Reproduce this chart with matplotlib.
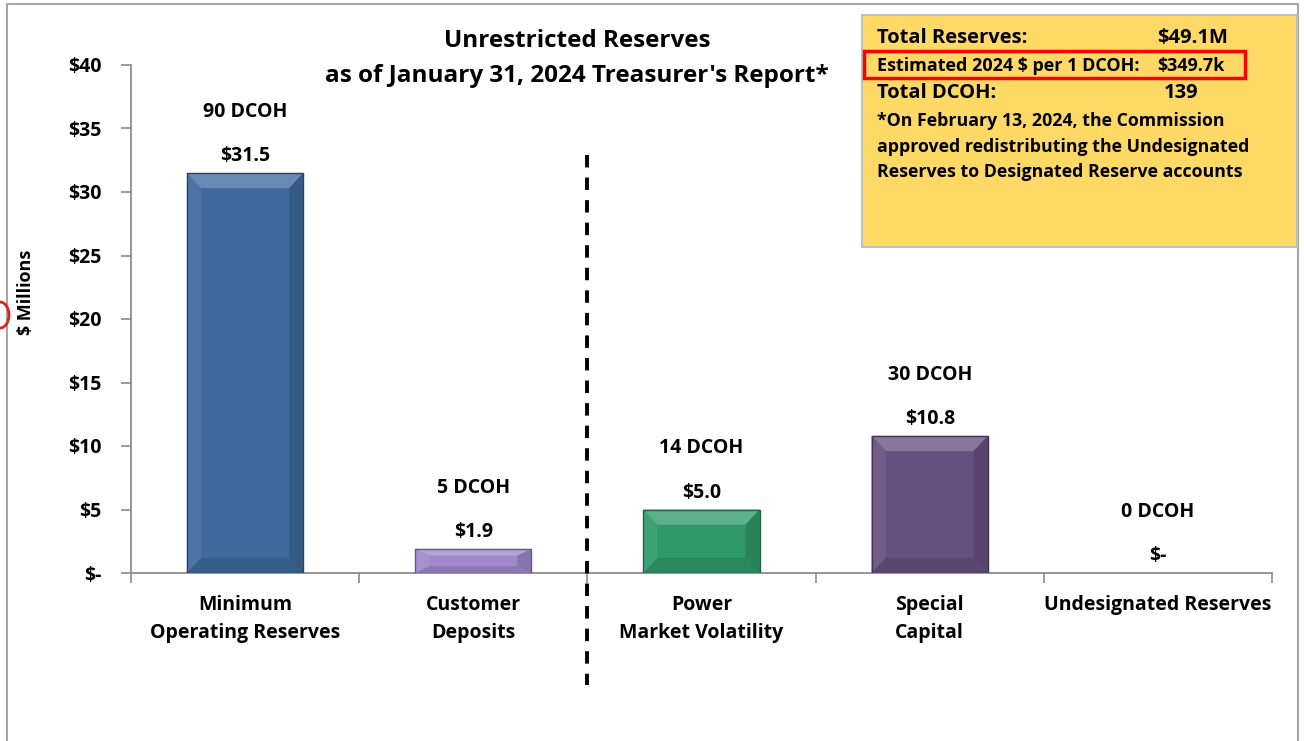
import matplotlib
matplotlib.use('Agg')
import matplotlib.pyplot as plt
from matplotlib.patches import Polygon, Rectangle, Ellipse
import matplotlib.colors as mcolors
import numpy as np

plt.rcParams['font.family'] = ['Open Sans', 'DejaVu Sans']
plt.rcParams['font.weight'] = 'bold'

# --- data ---
categories = ['Minimum\nOperating Reserves', 'Customer\nDeposits', 'Power\nMarket Volatility',
              'Special\nCapital', 'Undesignated Reserves']
values = [31.5, 1.9, 5.0, 10.8, 0.0]
value_labels = ['$31.5', '$1.9', '$5.0', '$10.8', '$-']
dcoh = [90, 5, 14, 30, 0]
bar_colors = ['#3F6A9E', '#A088CC', '#2F9A68', '#66507F']
yticks = [0, 5, 10, 15, 20, 25, 30, 35, 40]
ytick_labels = ['$-', '$5', '$10', '$15', '$20', '$25', '$30', '$35', '$40']

box_rows = [('Total Reserves:', '$49.1M'), ('Estimated 2024 $ per 1 DCOH:', '$349.7k'),
            ('Total DCOH:', '139')]
footnote = ['*On February 13, 2024, the Commission',
            'approved redistributing the Undesignated',
            'Reserves to Designated Reserve accounts']

W, H = 1304, 741
fig = plt.figure(figsize=(W / 100, H / 100), dpi=100)
ax = fig.add_axes([131 / W, 1 - 573 / H, (1272 - 131) / W, (573 - 65) / H])

x = np.arange(len(categories))
bars = ax.bar(x, values, width=0.51, color=bar_colors + ['none'], edgecolor='none', zorder=2)


def shade(c, f):
    rgb = np.array(mcolors.to_rgb(c))
    if f > 0:
        return tuple(rgb + (1 - rgb) * f)
    return tuple(rgb * (1 + f))


# bevel effect on each bar
for b, c in zip(bars, bar_colors):
    x0, w, h = b.get_x(), b.get_width(), b.get_height()
    if h <= 0:
        continue
    by = min(1.2, h * 0.28)
    bx = 0.062
    x1 = x0 + w
    ax.add_patch(Polygon([(x0, h), (x1, h), (x1 - bx, h - by), (x0 + bx, h - by)],
                         color=shade(c, 0.22), lw=0, zorder=3))
    ax.add_patch(Polygon([(x0, 0), (x1, 0), (x1 - bx, by), (x0 + bx, by)],
                         color=shade(c, -0.12), lw=0, zorder=3))
    ax.add_patch(Polygon([(x0, 0), (x0, h), (x0 + bx, h - by), (x0 + bx, by)],
                         color=shade(c, 0.07), lw=0, zorder=3))
    ax.add_patch(Polygon([(x1, 0), (x1, h), (x1 - bx, h - by), (x1 - bx, by)],
                         color=shade(c, -0.15), lw=0, zorder=3))
    ax.add_patch(Rectangle((x0, 0), w, h, fill=False, ec=shade(c, -0.35), lw=1, zorder=4))

for xi, v, vl, d in zip(x, values, value_labels, dcoh):
    ax.annotate(vl, (xi, v), xytext=(0, 12), textcoords='offset points',
                ha='center', va='center', fontsize=14, fontweight='bold')
    ax.annotate(f'{d} DCOH', (xi, v), xytext=(0, 44), textcoords='offset points',
                ha='center', va='center', fontsize=14, fontweight='bold')

ax.set_xlim(-0.5, len(categories) - 0.5)
ax.set_ylim(0, 40)
ax.set_yticks(yticks)
ax.set_yticklabels(ytick_labels, fontsize=14, fontweight='bold')
ax.set_xticks(x)
ax.set_xticklabels(categories, fontsize=14, fontweight='bold', va='top', linespacing=1.5)
ax.tick_params(axis='x', which='major', length=0, pad=16)
ax.set_xticks(np.arange(-0.5, len(categories)), minor=True)
ax.tick_params(axis='x', which='minor', length=7, color='#8C8C8C', width=1.2, direction='out')
ax.tick_params(axis='y', length=7, color='#8C8C8C', width=1.2, pad=14)
for s in ['top', 'right']:
    ax.spines[s].set_visible(False)
for s in ['left', 'bottom']:
    ax.spines[s].set_color('#8C8C8C')
    ax.spines[s].set_linewidth(1.3)
ax.set_ylabel('$ Millions', fontsize=13, fontweight='bold')
ax.yaxis.set_label_coords(-0.084, 0.553)

# dashed divider between customer deposits and power market volatility
ax.plot([1.5, 1.5], [32.9, -8.8], color='black', lw=2.8, ls=(0, (3.2, 2.6)),
        clip_on=False, zorder=5)

fig.text(577 / W, 1 - 41 / H, 'Unrestricted Reserves', ha='center', va='center',
         fontsize=17.5, fontweight='bold')
fig.text(577 / W, 1 - 76 / H, "as of January 31, 2024 Treasurer's Report*", ha='center',
         va='center', fontsize=17.5, fontweight='bold')

# outer frame
fig.patches.append(Rectangle((7 / W, -0.05), (1298 - 7) / W, 1.05 - 4 / H, transform=fig.transFigure,
                             fill=False, ec='#A6A6A6', lw=1.5))
# red circle cut at left edge
fig.patches.append(Ellipse((0 / W, 1 - 315 / H), 18 / W, 26 / H, transform=fig.transFigure,
                           fill=False, ec='#E02020', lw=2))

# info box
fig.patches.append(Rectangle((862 / W, 1 - 247 / H), (1297 - 862) / W, (247 - 15) / H,
                             transform=fig.transFigure, fc='#FFD966', ec='#BFBFBF', lw=1.5))
fig.patches.append(Rectangle((864 / W, 1 - 78 / H), (1245 - 864) / W, (78 - 51) / H,
                             transform=fig.transFigure, fill=False, ec='#FF0000', lw=2.5, zorder=5))
row_y = [38, 66, 93]
row_fs = [14.5, 13, 14.5]
val_x = [1157, 1157, 1164]
for (lab, val), yy, fs, vx in zip(box_rows, row_y, row_fs, val_x):
    fig.text(877 / W, 1 - yy / H, lab, ha='left', va='center', fontsize=fs, fontweight='bold')
    fig.text(vx / W, 1 - yy / H, val, ha='left', va='center', fontsize=fs, fontweight='bold')
for i, line in enumerate(footnote):
    fig.text(877 / W, 1 - (121 + 25.5 * i) / H, line, ha='left', va='center',
             fontsize=12.8, fontweight='bold')

fig.savefig('out.png', dpi=100)
